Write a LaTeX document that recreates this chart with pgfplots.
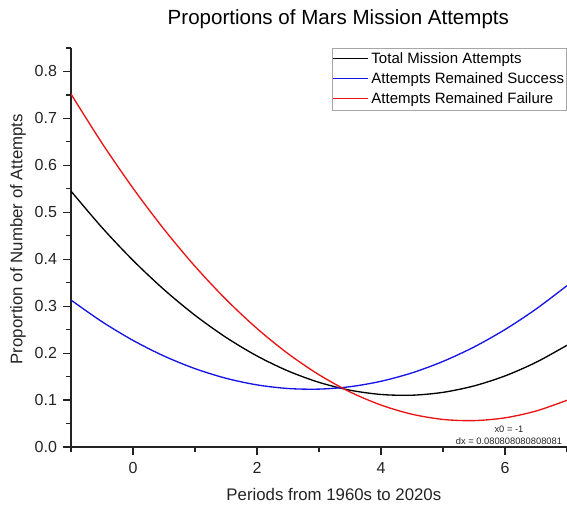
\documentclass[border=0pt]{standalone}
\usepackage{pgfplots}
\pgfplotsset{compat=1.18}
\usepackage{fontspec}
\setmainfont{Liberation Sans}
\definecolor{axgray}{RGB}{35,35,35}
\definecolor{myblue}{RGB}{20,20,230}
\definecolor{myred}{RGB}{235,20,20}
\begin{document}
\begin{tikzpicture}
\useasboundingbox (-53.25pt,-43.5pt) rectangle (372pt,335.25pt);
\begin{axis}[
  scale only axis,
  width=372pt, height=299.25pt,
  xmin=-1, xmax=7, ymin=0, ymax=0.85,
  axis lines*=left,
  axis line style={axgray, line width=1pt},
  tick style={axgray, line width=0.9pt},
  tick align=outside,
  major tick length=6pt,
  minor tick length=3.5pt,
  xtick={0,2,4,6},
  minor xtick={-1,1,3,5,7},
  ytick={0,0.1,0.2,0.3,0.4,0.5,0.6,0.7,0.8},
  minor ytick={0.05,0.15,0.25,0.35,0.45,0.55,0.65,0.75,0.85},
  /pgf/number format/assume math mode=true,
  yticklabel style={/pgf/number format/fixed, /pgf/number format/fixed zerofill, /pgf/number format/precision=1, xshift=-1pt},
  ticklabel style={font=\fontsize{12}{14}\selectfont, text=axgray},
  xticklabel style={yshift=-2pt},
  every axis title shift=0pt,
  title={Proportions of Mars Mission Attempts},
  title style={at={(axis description cs:0.539,1.060)}, anchor=base, font=\fontsize{15.4}{18}\selectfont, text=black},
  xlabel={Periods from 1960s to 2020s},
  xlabel style={at={(axis description cs:0.530,-0.133)}, anchor=base, font=\fontsize{12.6}{15}\selectfont, text=axgray},
  ylabel={Proportion of Number of Attempts},
  ylabel style={at={(axis description cs:-0.0978,0.521)}, anchor=base, font=\fontsize{12.6}{15}\selectfont, text=axgray},
  legend style={at={(1,1)}, anchor=north east, draw=gray!70,
    font=\fontsize{11.25}{13}\selectfont,
    inner xsep=0pt, inner ysep=1.5pt, row sep=1.2pt,
    nodes={inner xsep=2pt, inner ysep=2pt}},
  legend cell align=left,
  legend image code/.code={\draw[#1, line width=1.1pt] (0pt,0.5pt) -- (26pt,0.5pt);},
]
\addplot[color=black, line width=1pt, smooth] coordinates {
(-1,0.5451) (-0.5,0.4675) (0,0.3976) (0.5,0.3353) (1,0.2806) (1.5,0.2335)
(2,0.1939) (2.5,0.1620) (3,0.1377) (3.5,0.1210) (4,0.1119) (4.5,0.1103)
(5,0.1164) (5.5,0.1301) (6,0.1514) (6.5,0.1803) (7,0.2167)};
\addlegendentry{Total Mission Attempts}
\addplot[color=myblue, line width=1pt, smooth] coordinates {
(-1,0.3130) (-0.5,0.2669) (0,0.2271) (0.5,0.1938) (1,0.1669) (1.5,0.1464)
(2,0.1323) (2.5,0.1246) (3,0.1233) (3.5,0.1284) (4,0.1400) (4.5,0.1579)
(5,0.1823) (5.5,0.2130) (6,0.2502) (6.5,0.2938) (7,0.3438)};
\addlegendentry{Attempts Remained Success}
\addplot[color=myred, line width=1pt, smooth] coordinates {
(-1,0.7519) (-0.5,0.6474) (0,0.5514) (0.5,0.4639) (1,0.3849) (1.5,0.3144)
(2,0.2524) (2.5,0.1989) (3,0.1539) (3.5,0.1173) (4,0.0893) (4.5,0.0698)
(5,0.0587) (5.5,0.0562) (6,0.0621) (6.5,0.0766) (7,0.0995)};
\addlegendentry{Attempts Remained Failure}
\node[align=center, font=\fontsize{7}{9}\selectfont, text=axgray, inner sep=0pt]
  at (axis description cs:0.883,0.030) {x0 = -1\\dx = 0.080808080808081};
\end{axis}
\end{tikzpicture}
\end{document}
